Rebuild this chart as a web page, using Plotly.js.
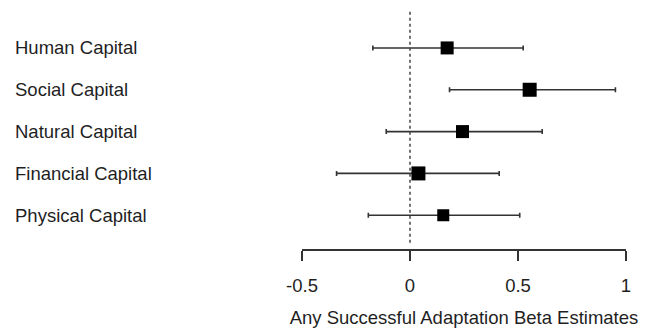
<!DOCTYPE html>
<html>
<head>
<meta charset="utf-8">
<script src="https://cdn.plot.ly/plotly-3.0.1.min.js"></script>
<style>
html,body{margin:0;padding:0;background:#fff;}
#chart{width:653px;height:330px;}
</style>
</head>
<body>
<div id="chart"></div>
<script>
// Data
var categories = ["Human Capital", "Social Capital", "Natural Capital", "Financial Capital", "Physical Capital"];
var estimates = [0.172, 0.554, 0.243, 0.039, 0.154];
var lower = [-0.172, 0.183, -0.110, -0.340, -0.193];
var upper = [0.524, 0.951, 0.612, 0.413, 0.508];
var tickValues = [-0.5, 0, 0.5, 1];
var tickLabels = ["-0.5", "0", "0.5", "1"];
var xTitle = "Any Successful Adaptation Beta Estimates";

var W = 653, H = 330;
var fontFam = "Liberation Sans, Arial, sans-serif";
var txtColor = "#1f1f1f";

var markerSizes = [13, 14, 13, 14, 12];

var trace = {
  type: "scatter",
  mode: "markers",
  x: estimates,
  y: categories,
  opacity: 1,
  marker: {symbol: "square", color: "#000000", opacity: 1, size: markerSizes, line: {width: 0, color: "#000"}},
  error_x: {
    type: "data",
    symmetric: false,
    array: estimates.map(function(e, i){ return upper[i] - e; }),
    arrayminus: estimates.map(function(e, i){ return e - lower[i]; }),
    color: "#333",
    thickness: 1.6,
    width: 2.5
  },
  hoverinfo: "skip",
  showlegend: false
};

var annotations = categories.map(function(c){
  return {
    xref: "paper", yref: "y",
    x: 13 / W, y: c,
    xanchor: "left", yanchor: "middle",
    text: c, showarrow: false,
    font: {family: fontFam, size: 18.5, color: txtColor}
  };
});

var layout = {
  width: W, height: H,
  margin: {l: 0, r: 0, t: 0, b: 80.7, pad: 0},
  paper_bgcolor: "#fff",
  plot_bgcolor: "#fff",
  showlegend: false,
  xaxis: {
    domain: [302 / W, 626 / W],
    range: [-0.5, 1],
    tickvals: tickValues,
    ticktext: tickLabels,
    ticks: "outside",
    ticklen: 10,
    tickwidth: 1.5,
    tickcolor: "#333",
    ticklabelstandoff: 9,
    showline: true,
    linecolor: "#333",
    linewidth: 1.5,
    showgrid: false,
    zeroline: false,
    tickfont: {family: fontFam, size: 18.5, color: txtColor},
    title: {text: xTitle, font: {family: fontFam, size: 18.5, color: txtColor}, standoff: 16},
    fixedrange: true
  },
  yaxis: {
    type: "category",
    categoryorder: "array",
    categoryarray: categories.slice().reverse(),
    range: [-0.807, 5.146],
    showticklabels: false,
    ticks: "",
    showline: false,
    showgrid: false,
    zeroline: false,
    fixedrange: true
  },
  shapes: [{
    type: "line", xref: "x", yref: "paper",
    x0: 0, x1: 0, y0: (249.3 - 243) / 249.3, y1: (249.3 - 10) / 249.3,
    line: {color: "#444", width: 1.5, dash: "dot"}
  }],
  annotations: annotations
};

Plotly.newPlot("chart", [trace], layout, {displayModeBar: false, staticPlot: true});
</script>
</body>
</html>
